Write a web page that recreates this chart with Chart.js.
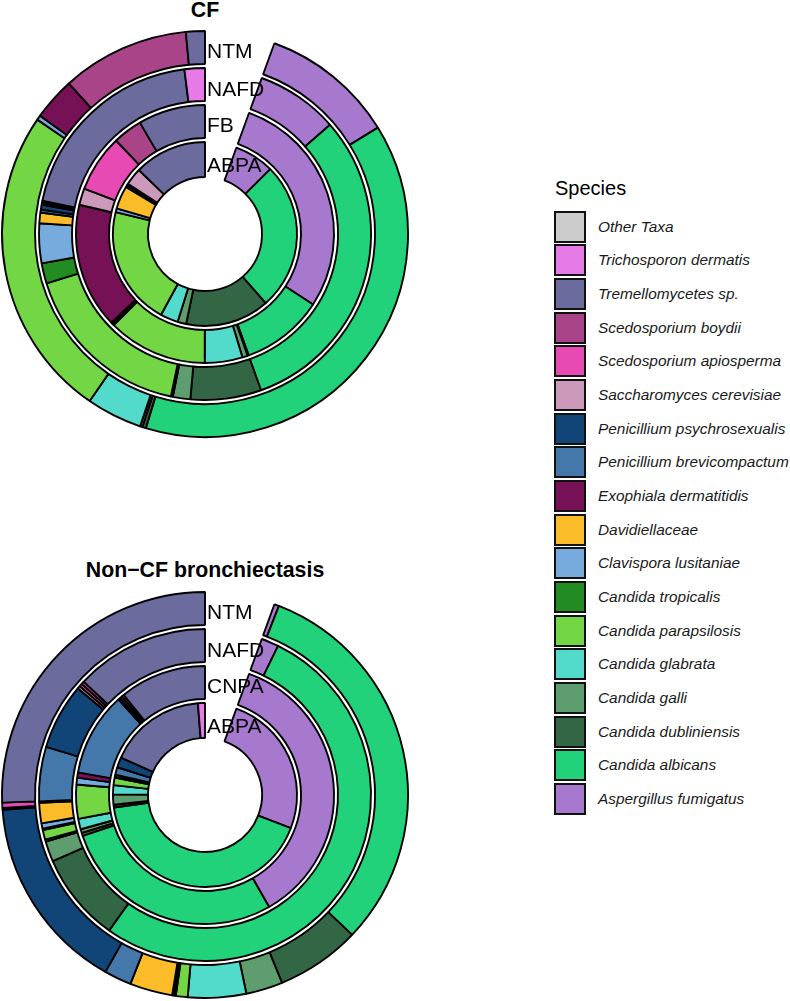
<!DOCTYPE html>
<html>
<head>
<meta charset="utf-8">
<script src="https://cdn.jsdelivr.net/npm/chart.js@4.4.1/dist/chart.umd.min.js"></script>
<style>
  body { margin: 0; background: #fff; font-family: "Liberation Sans", Arial, sans-serif; }
  #page { position: relative; width: 790px; height: 1001px; overflow: hidden; }
  .pie { position: absolute; width: 420px; height: 420px; }
  .title { position: absolute; width: 410px; left: 0; text-align: center; font-weight: bold; font-size: 21.3px; line-height: 21px; }
  .ringlab { position: absolute; left: 207px; font-size: 21px; line-height: 21px; color: #000; }
  #legend { position: absolute; left: 554px; top: 0; }
  #legend .head { position: absolute; left: 1px; top: 178px; font-size: 20px; line-height: 20px; white-space: nowrap; }
  #legend .row { position: absolute; left: 0; height: 32px; white-space: nowrap; }
  #legend .box { position: absolute; left: 0; top: 0; width: 32px; height: 32px; box-sizing: border-box; border: 2px solid #111; }
  #legend .txt { position: absolute; left: 44px; top: 8px; font-size: 15.4px; line-height: 16px; font-style: italic; color: #1a1a1a; }
</style>
</head>
<body>
<div id="page">
  <div class="title" style="top:0px">CF</div>
  <div class="title" style="top:560px">Non−CF bronchiectasis</div>
  <div class="pie" style="left:-5px;top:24px"><canvas id="cf" width="420" height="420"></canvas></div>
  <div class="pie" style="left:-5px;top:585px"><canvas id="ncf" width="420" height="420"></canvas></div>
  <div id="labels"></div>
  <div id="legend"><div class="head">Species</div></div>
</div>
<script>
// species in drawing order (clockwise from the gap)
const species = ['Aspergillus fumigatus', 'Candida albicans', 'Candida dubliniensis', 'Candida galli',
  'Candida glabrata', 'Candida parapsilosis', 'Candida tropicalis', 'Clavispora lusitaniae',
  'Davidiellaceae', 'Exophiala dermatitidis', 'Penicillium brevicompactum', 'Penicillium psychrosexualis',
  'Saccharomyces cerevisiae', 'Scedosporium apiosperma', 'Scedosporium boydii', 'Tremellomycetes sp.',
  'Trichosporon dermatis', 'Other Taxa'];
const speciesColors = ['#A679CF', '#21D27A', '#336644', '#5E9E6E', '#52DBCB', '#72D645', '#228B22', '#77AADD',
  '#FBBC2A', '#771155', '#4477AA', '#114477', '#CC99BB', '#E84AB4', '#AA4488', '#6B6B9E', '#E67BE8', '#CCCCCC'];

// relative abundance (%), outer ring first
const cfRings = ['NTM', 'NAFD', 'FB', 'ABPA'];
const cfNTM  = [11.3, 40.8, 0.3, 0.2, 4.7, 26.4, 0, 0.4, 0, 3.6, 0, 0, 0, 0, 10.8, 1.6, 0, 0];
const cfNAFD = [8.5, 32.8, 7.3, 1.8, 0.2, 17.9, 2.1, 4.1, 1.1, 0, 0.3, 0.5, 0.2, 0.2, 0, 21.0, 2.1, 0];
const cfFB   = [30.3, 10.9, 0.15, 0.7, 5.0, 13.2, 0.15, 0.15, 0.15, 16.6, 0, 0, 2.2, 7.6, 3.9, 8.9, 0, 0];
const cfABPA = [7.4, 27.5, 15.6, 1.6, 3.3, 22.1, 0, 0.7, 4.3, 0.4, 0, 0.3, 3.2, 0, 0, 13.5, 0, 0];

const ncfRings = ['NTM', 'NAFD', 'CNPA', 'ABPA'];
const ncfNTM  = [0.4, 33.0, 7.1, 3.1, 4.9, 1.0, 0.15, 0.15, 3.6, 0, 2.3, 16.6, 0.15, 0.45, 0, 27.1, 0, 0];
const ncfNAFD = [1.8, 55.6, 9.2, 2.1, 0.2, 1.0, 0.15, 0.55, 2.1, 0.15, 5.6, 6.8, 0.3, 0.3, 0.3, 13.8, 0, 0];
const ncfCNPA = [38.3, 29.8, 0.4, 0.5, 1.4, 4.5, 0, 0.9, 0, 0.7, 11.1, 0.3, 0.3, 0.3, 0, 11.5, 0, 0];
const ncfABPA = [26.8, 44.4, 0.5, 1.9, 1.7, 1.4, 0, 0.15, 0.4, 0, 1.4, 1.9, 0, 0, 0, 18.1, 1.3, 0];

function ring(label, data, w) {
  return { label: label, data: data, weight: w, backgroundColor: speciesColors,
           borderColor: '#000', borderWidth: 1.9, hoverBorderWidth: 1.9 };
}
function gap() {
  return { label: '', data: [1], weight: 4, backgroundColor: 'rgba(0,0,0,0)', borderWidth: 0 };
}

function makeChart(id, names, rings) {
  var ctx = document.getElementById(id).getContext('2d');
  return new Chart(ctx, {
    type: 'doughnut',
    data: {
      labels: species,
      datasets: [ring(names[0], rings[0], 33), gap(), ring(names[1], rings[1], 33), gap(),
                 ring(names[2], rings[2], 33), gap(), ring(names[3], rings[3], 35)]
    },
    options: {
      responsive: false,
      animation: false,
      events: [],
      rotation: 20,
      circumference: 340,
      radius: 203,
      cutout: '28.08%',
      plugins: { legend: { display: false }, tooltip: { enabled: false } }
    }
  });
}

var cfChart = makeChart('cf', cfRings, [cfNTM, cfNAFD, cfFB, cfABPA]);
var ncfChart = makeChart('ncf', ncfRings, [ncfNTM, ncfNAFD, ncfCNPA, ncfABPA]);

// ring names in the gap
const labOffsets = [-184, -146, -109.5, -69.5];
function putLabels(names, cy) {
  var box = document.getElementById('labels');
  names.forEach(function (n, i) {
    var d = document.createElement('div');
    d.className = 'ringlab';
    d.textContent = n;
    d.style.top = (cy + labOffsets[i] - 10.3) + 'px';
    box.appendChild(d);
  });
}
putLabels(cfRings, 234);
putLabels(ncfRings, 795);

// legend, reversed order like the original
var leg = document.getElementById('legend');
species.slice().reverse().forEach(function (s, i) {
  var c = speciesColors[species.length - 1 - i];
  var row = document.createElement('div');
  row.className = 'row';
  row.style.top = (210.7 + i * 33.66) + 'px';
  row.innerHTML = '<div class="box" style="background:' + c + '"></div><div class="txt">' + s + '</div>';
  leg.appendChild(row);
});
</script>
</body>
</html>
